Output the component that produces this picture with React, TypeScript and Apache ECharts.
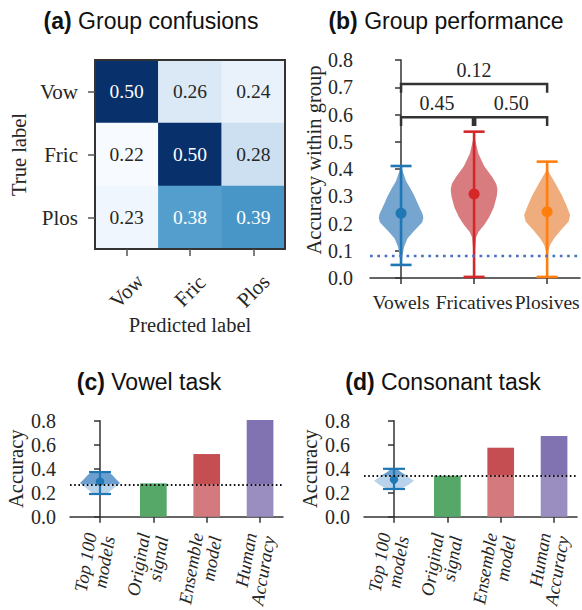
import React, { useEffect, useRef } from "react";
import * as echarts from "echarts";

// ---------- data ----------
const matrixLabels = ["Vow", "Fric", "Plos"];
const confusionRows = [
  [0.5, 0.26, 0.24],
  [0.22, 0.5, 0.28],
  [0.23, 0.38, 0.39],
];

const groups = ["Vowels", "Fricatives", "Plosives"];
const groupMeans = [0.238, 0.308, 0.243];
const groupMins = [0.048, 0.004, 0.004];
const groupMaxs = [0.411, 0.537, 0.427];
// [accuracy, half width in category units]
const vowelProfile = [
  [0.41, 0.0], [0.39, 0.025], [0.355, 0.07], [0.33, 0.125], [0.3, 0.185], [0.275, 0.225],
  [0.255, 0.26], [0.235, 0.295], [0.22, 0.305], [0.205, 0.29], [0.19, 0.24], [0.17, 0.168],
  [0.145, 0.088], [0.115, 0.042], [0.085, 0.022], [0.06, 0.01], [0.05, 0.0],
];
const fricativeProfile = [
  [0.537, 0.0], [0.506, 0.015], [0.457, 0.058], [0.41, 0.14], [0.37, 0.25], [0.345, 0.305],
  [0.325, 0.32], [0.3, 0.31], [0.26, 0.27], [0.225, 0.21], [0.195, 0.14], [0.17, 0.062],
  [0.15, 0.028], [0.1, 0.012], [0.004, 0.004],
];
const plosiveProfile = [
  [0.4, 0.0], [0.38, 0.042], [0.353, 0.1], [0.305, 0.2], [0.268, 0.262], [0.231, 0.315],
  [0.207, 0.295], [0.176, 0.19], [0.146, 0.097], [0.121, 0.04], [0.097, 0.015], [0.05, 0.008],
  [0.004, 0.004],
];
const groupChance = 0.083;
const bracketStart = [0, 0, 1.015];
const bracketEnd = [2, 0.985, 2];
const bracketLevel = [0.712, 0.59, 0.59];
const bracketDrop = [0.68, 0.558, 0.558];
const bracketPValues = ["0.12", "0.45", "0.50"];

const taskCategories = ["Top 100\nmodels", "Original\nsignal", "Ensemble\nmodel", "Human\nAccuracy"];
const vowelTaskBars = [0.278, 0.522, 0.805];
const vowelChance = 0.272;
const vowelModelMean = 0.292;
const vowelModelMin = 0.189;
const vowelModelMax = 0.372;
const vowelModelProfile = [
  [0.368, 0.17], [0.35, 0.225], [0.32, 0.285], [0.295, 0.34], [0.28, 0.375], [0.26, 0.32],
  [0.24, 0.26], [0.215, 0.19], [0.195, 0.15],
];
const consonantTaskBars = [0.342, 0.575, 0.672];
const consonantChance = 0.342;
const consonantModelMean = 0.31;
const consonantModelMin = 0.231;
const consonantModelMax = 0.399;
const consonantModelProfile = [
  [0.4, 0.06], [0.375, 0.12], [0.347, 0.22], [0.32, 0.3], [0.3, 0.375], [0.285, 0.33],
  [0.264, 0.27], [0.245, 0.19], [0.232, 0.11],
];

// ---------- styles ----------
const SERIF = '"Liberation Serif", "DejaVu Serif", serif';
const SANS = '"Liberation Sans", Arial, sans-serif';
const TEXT = "#262626";
const AXIS = "#333333";
const BLUES = ["#f7fbff", "#deebf7", "#c6dbef", "#9ecae1", "#6baed6", "#4292c6", "#2171b5", "#08519c", "#08306b"];
const groupLine = ["#1f77b4", "#d62728", "#ff7f0e"];
const groupFill = ["#76a5cf", "#d97c80", "#efac7c"];
const barUpper = ["#55a868", "#c44e52", "#8172b2"];
const barLower = ["#55a868", "#d4797d", "#9a8ec1"];

function mirrorPoints(api: any, center: number, profile: number[][]) {
  const right = profile.map(([y, w]) => api.coord([center + w, y]));
  const left = profile.slice().reverse().map(([y, w]) => api.coord([center - w, y]));
  return right.concat(left);
}

function splitProfile(profile: number[][], cut: number) {
  const upper: number[][] = [];
  const lower: number[][] = [];
  for (let k = 0; k < profile.length; k++) {
    const [y, w] = profile[k];
    if (y >= cut) upper.push([y, w]);
    if (y <= cut) lower.push([y, w]);
    if (k < profile.length - 1) {
      const [y2, w2] = profile[k + 1];
      if ((y - cut) * (y2 - cut) < 0) {
        const t = (y - cut) / (y - y2);
        const p = [cut, w + (w2 - w) * t];
        upper.push(p);
        lower.push(p);
      }
    }
  }
  return { upper, lower };
}

function errorBar(api: any, center: number, lo: number, hi: number, capHalf: number, color: string, width: number) {
  const top = api.coord([center, hi]);
  const bot = api.coord([center, lo]);
  const st = { stroke: color, lineWidth: width };
  return [
    { type: "line", shape: { x1: top[0], y1: top[1], x2: bot[0], y2: bot[1] }, style: st },
    { type: "line", shape: { x1: top[0] - capHalf, y1: top[1], x2: top[0] + capHalf, y2: top[1] }, style: st },
    { type: "line", shape: { x1: bot[0] - capHalf, y1: bot[1], x2: bot[0] + capHalf, y2: bot[1] }, style: st },
  ];
}

function valueAxisY(gridIndex: number, interval: number, name: string, nameGap: number, margin: number, extra: any = {}) {
  return {
    type: "value",
    gridIndex,
    min: 0,
    max: 0.8,
    interval,
    name,
    nameLocation: "middle",
    nameGap,
    nameRotate: 90,
    nameTextStyle: { fontFamily: SERIF, fontSize: 20.5, color: TEXT, ...(extra.nameTextStyle || {}) },
    axisLine: { show: true, lineStyle: { color: AXIS, width: 1.5 } },
    axisTick: { show: true, length: 6, lineStyle: { color: AXIS, width: 1.5 } },
    axisLabel: { fontFamily: SERIF, fontSize: 20, color: TEXT, margin, formatter: (v: number) => v.toFixed(1) },
    splitLine: { show: false },
  };
}

function taskXAxis(gridIndex: number) {
  return {
    type: "value",
    gridIndex,
    min: -0.5625,
    max: 3.43,
    axisLine: { show: true, lineStyle: { color: AXIS, width: 1.5 } },
    axisTick: { show: true, length: 6, customValues: [0, 1, 2, 3], lineStyle: { color: AXIS, width: 1.5 } },
    axisLabel: {
      customValues: [0, 1, 2, 3],
      formatter: (v: number) => taskCategories[Math.round(v)],
      rotate: 80,
      hideOverlap: false,
      fontFamily: SERIF,
      fontStyle: "italic",
      fontSize: 18.5,
      lineHeight: 18.5,
      color: TEXT,
      margin: 18,
    },
    splitLine: { show: false },
  };
}

function taskSeries(gridIdx: number, bars: number[], chance: number, mean: number, lo: number, hi: number, profile: number[][]) {
  return [
    {
      type: "custom",
      xAxisIndex: gridIdx,
      yAxisIndex: gridIdx,
      data: bars.map((v, i) => [i + 1, v]),
      renderItem: (params: any, api: any) => {
        const i = params.dataIndex;
        const x = api.value(0);
        const v = api.value(1);
        const cut = Math.min(v, chance);
        const bl = api.coord([x - 0.25, 0]);
        const cm = api.coord([x + 0.25, cut]);
        const tp = api.coord([x + 0.25, v]);
        const w = cm[0] - bl[0];
        const children: any[] = [
          { type: "rect", shape: { x: bl[0], y: cm[1], width: w, height: bl[1] - cm[1] }, style: { fill: barLower[i] } },
        ];
        if (v > chance) {
          children.push({ type: "rect", shape: { x: bl[0], y: tp[1], width: w, height: cm[1] - tp[1] }, style: { fill: barUpper[i] } });
        }
        return { type: "group", children };
      },
      markLine: {
        silent: true,
        symbol: "none",
        label: { show: false },
        lineStyle: { type: [1.6, 2.6], color: "#111", width: 2 },
        data: [{ yAxis: chance }],
        z: 10,
      },
      z: 2,
    },
    {
      type: "custom",
      xAxisIndex: gridIdx,
      yAxisIndex: gridIdx,
      data: [[0, mean]],
      renderItem: (params: any, api: any) => {
        const c = api.value(0);
        const m = api.value(1);
        const parts = splitProfile(profile, chance);
        const children: any[] = [];
        if (parts.lower.length > 1)
          children.push({ type: "polygon", shape: { points: mirrorPoints(api, c, parts.lower) }, style: { fill: "#b9d3ea" } });
        if (parts.upper.length > 1)
          children.push({ type: "polygon", shape: { points: mirrorPoints(api, c, parts.upper) }, style: { fill: "#6a9fcf" } });
        children.push(...errorBar(api, c, lo, hi, 11, "#1f77b4", 2.2));
        const d = api.coord([c, m]);
        children.push({ type: "circle", shape: { cx: d[0], cy: d[1], r: 4.2 }, style: { fill: "#1f77b4" } });
        return { type: "group", children };
      },
      z: 3,
    },
  ];
}

function groupXAxis() {
  return {
    type: "value",
    gridIndex: 1,
    min: -0.425,
    max: 2.45,
    axisLine: { show: true, lineStyle: { color: AXIS, width: 1.5 } },
    axisTick: { show: true, length: 6, customValues: [0, 1, 2], lineStyle: { color: AXIS, width: 1.5 } },
    axisLabel: {
      customValues: [0, 1, 2],
      formatter: (v: number) => groups[Math.round(v)],
      hideOverlap: false,
      fontFamily: SERIF,
      fontSize: 19.5,
      color: TEXT,
      margin: 14,
    },
    splitLine: { show: false },
  };
}

function buildOption() {
  const heatData: any[] = [];
  confusionRows.forEach((row, r) =>
    row.forEach((v, c) => {
      heatData.push({ value: [c, r, v], label: { color: v > 0.36 ? "#ffffff" : TEXT } });
    })
  );

  const titleStyle = (text: string, x: number, y: number) => ({
    type: "text",
    x,
    y,
    style: {
      text,
      align: "center",
      verticalAlign: "middle",
      fontFamily: SANS,
      fontSize: 23,
      fill: "#111",
      rich: {
        b: { fontFamily: SANS, fontSize: 23, fontWeight: "bold", fill: "#111" },
        n: { fontFamily: SANS, fontSize: 23, fill: "#111" },
      },
    },
  });

  const heatAxisCommon = {
    axisLine: { show: true, lineStyle: { color: AXIS, width: 2 } },
    splitLine: { show: false },
    z: 10,
  };

  const gridBase = { outerBoundsMode: "none", containLabel: false };

  return {
    animation: false,
    backgroundColor: "#ffffff",
    graphic: [
      titleStyle("{b|(a)}{n| Group confusions}", 151, 21),
      titleStyle("{b|(b)}{n| Group performance}", 446, 21),
      titleStyle("{b|(c)}{n| Vowel task}", 149, 382),
      titleStyle("{b|(d)}{n| Consonant task}", 443, 382),
    ],
    grid: [
      { ...gridBase, left: 95, top: 60, width: 190, height: 189 },
      { ...gridBase, left: 370, top: 60, width: 210, height: 218 },
      { ...gridBase, left: 70, top: 420.7, width: 213, height: 96 },
      { ...gridBase, left: 364, top: 420.7, width: 213, height: 96 },
    ],
    visualMap: {
      show: false,
      type: "continuous",
      min: 0.22,
      max: 0.5,
      dimension: 2,
      seriesIndex: 0,
      inRange: { color: BLUES },
    },
    xAxis: [
      {
        type: "category",
        gridIndex: 0,
        data: matrixLabels,
        position: "bottom",
        ...heatAxisCommon,
        axisTick: { show: true, alignWithLabel: true, length: 7, lineStyle: { color: "#555", width: 1.5 } },
        axisLabel: { rotate: 45, align: "center", verticalAlign: "middle", margin: 42, fontFamily: SERIF, fontSize: 21, color: TEXT },
        name: "Predicted label",
        nameLocation: "middle",
        nameGap: 62,
        nameTextStyle: { fontFamily: SERIF, fontSize: 20.5, color: TEXT },
      },
      groupXAxis(),
      taskXAxis(2),
      taskXAxis(3),
      {
        type: "category",
        gridIndex: 0,
        data: matrixLabels,
        position: "top",
        ...heatAxisCommon,
        axisTick: { show: false },
        axisLabel: { show: false },
      },
    ],
    yAxis: [
      {
        type: "category",
        gridIndex: 0,
        data: matrixLabels,
        inverse: true,
        position: "left",
        ...heatAxisCommon,
        axisTick: { show: true, alignWithLabel: true, length: 7, lineStyle: { color: "#555", width: 1.5 } },
        axisLabel: { margin: 17, fontFamily: SERIF, fontSize: 21, color: TEXT },
        name: "True label",
        nameLocation: "middle",
        nameGap: 66,
        nameRotate: 90,
        nameTextStyle: { fontFamily: SERIF, fontSize: 20.5, color: TEXT },
      },
      valueAxisY(1, 0.1, "Accuracy within group", 46, 17, { nameTextStyle: { padding: [0, 0, 0, 18] } }),
      valueAxisY(2, 0.2, "Accuracy", 44, 14),
      valueAxisY(3, 0.2, "Accuracy", 44, 14),
      {
        type: "category",
        gridIndex: 0,
        data: matrixLabels,
        inverse: true,
        position: "right",
        ...heatAxisCommon,
        axisTick: { show: false },
        axisLabel: { show: false },
      },
    ],
    series: [
      {
        type: "heatmap",
        xAxisIndex: 0,
        yAxisIndex: 0,
        data: heatData,
        label: {
          show: true,
          fontFamily: SERIF,
          fontSize: 19.5,
          formatter: (p: any) => p.value[2].toFixed(2),
        },
        itemStyle: { borderWidth: 0 },
        emphasis: { disabled: true },
      },
      {
        type: "custom",
        xAxisIndex: 1,
        yAxisIndex: 1,
        data: groups.map((_, i) => [i, groupMeans[i]]),
        renderItem: (params: any, api: any) => {
          const i = params.dataIndex;
          const c = api.value(0);
          const m = api.value(1);
          const profile = [vowelProfile, fricativeProfile, plosiveProfile][i];
          const children: any[] = [
            { type: "polygon", shape: { points: mirrorPoints(api, c, profile) }, style: { fill: groupFill[i] } },
          ];
          children.push(...errorBar(api, c, groupMins[i], groupMaxs[i], 10.5, groupLine[i], 2.6));
          const d = api.coord([c, m]);
          children.push({ type: "circle", shape: { cx: d[0], cy: d[1], r: 5.5 }, style: { fill: groupLine[i] } });
          return { type: "group", children };
        },
        markLine: {
          silent: true,
          symbol: "none",
          label: { show: false },
          lineStyle: { type: [2.7, 4.6], color: "#4a72c4", width: 2.3 },
          data: [{ yAxis: groupChance }],
          z: 10,
        },
        z: 2,
      },
      {
        type: "custom",
        xAxisIndex: 1,
        yAxisIndex: 1,
        data: bracketStart.map((s, i) => [s, bracketLevel[i]]),
        clip: false,
        renderItem: (params: any, api: any) => {
          const i = params.dataIndex;
          const a = api.coord([bracketStart[i], bracketDrop[i]]);
          const b = api.coord([bracketStart[i], bracketLevel[i]]);
          const c = api.coord([bracketEnd[i], bracketLevel[i]]);
          const d = api.coord([bracketEnd[i], bracketDrop[i]]);
          return {
            type: "group",
            children: [
              {
                type: "polyline",
                shape: { points: [a, b, c, d] },
                style: { stroke: AXIS, lineWidth: 2.5, fill: null },
              },
              {
                type: "text",
                x: (b[0] + c[0]) / 2,
                y: b[1] - 4,
                style: {
                  text: bracketPValues[i],
                  align: "center",
                  verticalAlign: "bottom",
                  fontFamily: SERIF,
                  fontSize: 20,
                  fill: TEXT,
                },
              },
            ],
          };
        },
        z: 4,
      },
      ...taskSeries(2, vowelTaskBars, vowelChance, vowelModelMean, vowelModelMin, vowelModelMax, vowelModelProfile),
      ...taskSeries(3, consonantTaskBars, consonantChance, consonantModelMean, consonantModelMin, consonantModelMax, consonantModelProfile),
    ],
  };
}

export default function App() {
  const ref = useRef<HTMLDivElement>(null);
  useEffect(() => {
    if (!ref.current) return;
    const chart = echarts.init(ref.current, undefined, { renderer: "svg" });
    chart.setOption(buildOption() as any);
    return () => chart.dispose();
  }, []);
  return (
    <div
      ref={ref}
      style={{ position: "fixed", left: 0, top: 0, width: 582, height: 610, background: "#fff" }}
    />
  );
}
